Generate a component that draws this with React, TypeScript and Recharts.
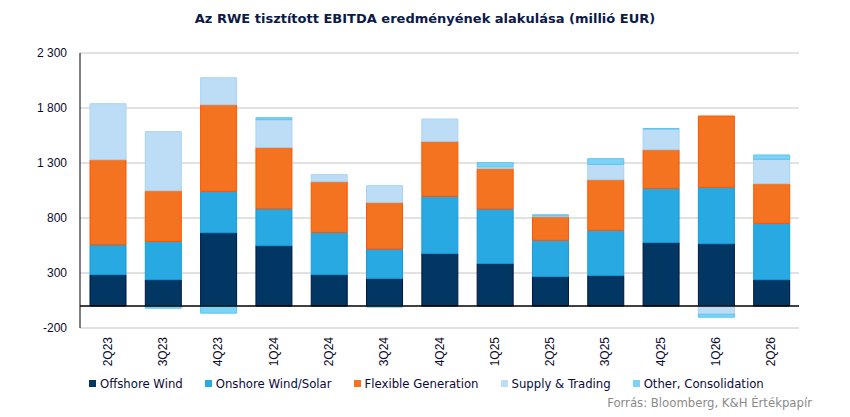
import React from "react";
import {
  BarChart, Bar, XAxis, YAxis, CartesianGrid, ReferenceLine,
} from "recharts";

// ─── Data ─────────────────────────────────────────────────────────────────────

const QUARTERS = ["2Q23", "3Q23", "4Q23", "1Q24", "2Q24", "3Q24", "4Q24", "1Q25", "2Q25", "3Q25", "4Q25", "1Q26", "2Q26"];

const OFFSHORE = [285, 239, 666, 548, 285, 251, 478, 387, 269, 278, 578, 566, 239];
const ONSHORE  = [272, 348, 376, 336, 384, 267, 519, 495, 328, 410, 492, 513, 512];
const FLEXIBLE = [773, 461, 788, 558, 461, 424, 500, 369, 215, 460, 351, 648, 361];
const SUPPLY   = [509, 537, 245, 252, 64, 152, 203, 15, 8, 140, 188, -75, 221];
const OTHER    = [0, -20, -65, 18, 0, -10, 0, 37, 9, 51, 5, -27, 40];

const Y_TICKS = [-200, 300, 800, 1300, 1800, 2300];

const SERIES = [
  { key: "offshore", name: "Offshore Wind",         fill: "#023764", stroke: "#001440" },
  { key: "onshore",  name: "Onshore Wind/Solar",    fill: "#29A9E1", stroke: "#139bdc" },
  { key: "flexible", name: "Flexible Generation",   fill: "#F37321", stroke: "#ff5500" },
  { key: "supply",   name: "Supply & Trading",      fill: "#BDDDF7", stroke: "#a9d2f2" },
  { key: "other",    name: "Other, Consolidation",  fill: "#7DD3F5", stroke: "#5cc4ee" },
];

const data = QUARTERS.map((q, i) => ({
  q,
  offshore: OFFSHORE[i],
  onshore: ONSHORE[i],
  flexible: FLEXIBLE[i],
  supply: SUPPLY[i],
  other: OTHER[i],
}));

const fmt = (v: number) => {
  const s = Math.abs(v).toString();
  const t = s.length > 3 ? s.slice(0, s.length - 3) + " " + s.slice(-3) : s;
  return v < 0 ? "-" + t : t;
};

const LEGEND_FONT = "'DejaVu Sans Condensed', 'DejaVu Sans', sans-serif";

// ─── Ticks ────────────────────────────────────────────────────────────────────

function QuarterTick({ x, y, payload }: any) {
  return (
    <g transform={`translate(${x},${y})`}>
      <text
        transform="rotate(-90)"
        textAnchor="end"
        dy={4}
        fill="#0a0a2a"
        fontSize={12}
        fontFamily="'Liberation Sans', Arial, sans-serif"
      >
        {payload.value}
      </text>
    </g>
  );
}

// ─── Main ─────────────────────────────────────────────────────────────────────

export default function App() {
  return (
    <div style={{ position: "relative", width: 850, height: 417, background: "#fff" }}>
      <style>{`body{margin:0}`}</style>

      <div style={{
        position: "absolute", top: 11, left: 0, width: 850, textAlign: "center",
        fontFamily: "'DejaVu Sans', sans-serif", fontWeight: 700, fontSize: 13, color: "#0b1a48",
      }}>
        Az RWE tisztított EBITDA eredményének alakulása (millió EUR)
      </div>

      <BarChart
        width={850}
        height={417}
        data={data}
        stackOffset="sign"
        margin={{ top: 53, right: 51, left: 0, bottom: 0 }}
      >
        <CartesianGrid vertical={false} stroke="#c4c4c4" />
        <XAxis
          dataKey="q"
          height={89}
          axisLine={false}
          tickLine={false}
          tickSize={0}
          tickMargin={9}
          interval={0}
          tick={<QuarterTick />}
        />
        <YAxis
          width={80}
          domain={[-200, 2300]}
          ticks={Y_TICKS}
          tickFormatter={fmt}
          axisLine={{ stroke: "#000" }}
          tickLine={false}
          tickSize={0}
          tickMargin={13}
          tick={{ fill: "#0a0a2a", fontSize: 12, fontFamily: "'Liberation Sans', Arial, sans-serif" }}
        />
        {SERIES.map((s) => (
          <Bar
            key={s.key}
            dataKey={s.key}
            stackId="a"
            fill={s.fill}
            stroke={s.stroke}
            strokeWidth={1}
            barSize={36}
            isAnimationActive={false}
          />
        ))}
        <ReferenceLine y={0} stroke="#000" strokeWidth={1.5} />
      </BarChart>

      {/* Legend */}
      <div style={{
        position: "absolute", top: 376, left: 89, display: "flex", gap: 22,
        fontFamily: LEGEND_FONT, fontSize: 13, color: "#0a0a3a", whiteSpace: "nowrap",
      }}>
        {SERIES.map((s) => (
          <div key={s.key} style={{ display: "flex", alignItems: "center", gap: 4 }}>
            <span style={{ width: 7, height: 7, background: s.fill }} />
            <span>{s.name}</span>
          </div>
        ))}
      </div>

      <div style={{
        position: "absolute", top: 395, right: 38,
        fontFamily: LEGEND_FONT, fontSize: 13, color: "#8a8a8a", whiteSpace: "nowrap",
      }}>
        Forrás: Bloomberg, K&amp;H Értékpapír
      </div>
    </div>
  );
}
